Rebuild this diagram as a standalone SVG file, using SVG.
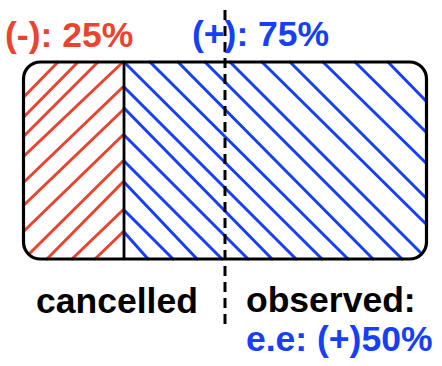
<svg xmlns="http://www.w3.org/2000/svg" width="442" height="366" viewBox="0 0 442 366">
<style>
.red{stroke:#EA4430;stroke-width:3;fill:none;stroke-linecap:round}
.blue{stroke:#1640F5;stroke-width:3;fill:none;stroke-linecap:round}
.box{fill:none;stroke:#000;stroke-width:3.2}
.div{stroke:#000;stroke-width:2.8}
.dash{stroke:#000;stroke-width:3;stroke-dasharray:10 6}
.t{font-family:"Liberation Sans",Arial,sans-serif;font-weight:bold;font-size:35.5px}
</style>
<rect width="442" height="366" fill="#fff"/>
<g id="negative">
<path class="red" d="M24 96.7L58 62M24 116.7L78 62M24 136L98 62M24 156L123 62M24 182L123 87M24 205L123 110M24 231L123 135M29 254L123 161M47 259L123 182M72 259L123 210M95 259L123 232"/>
</g>
<g id="positive">
<path class="blue" d="M124 232L148 259M124 210L173 259M124 182L197 259M124 161L222 259M124 135L248 259M124 108L272 259M124 87L296 259M124 62L322 259M150 62L348 259M178 62L373 259M205 62L402 259M230 62L420 252M262 62L426 224M290 62L426 198M323 62L426 163M355 62L426 132M388 62L426 101"/>
</g>
<g id="box">
<line class="div" x1="124" y1="62" x2="124" y2="259"/>
<rect class="box" x="23.5" y="62" width="403" height="197" rx="17"/>
</g>
<g id="connectors">
<line class="dash" x1="225" y1="10" x2="225" y2="328"/>
</g>
<g id="labels">
<text class="t" x="5" y="47" fill="#EA4430">(-): 25%</text>
<text class="t" x="192" y="46" fill="#1640F5">(+): 75%</text>
<text class="t" x="36" y="313" fill="#000">cancelled</text>
<text class="t" x="246" y="312" fill="#000">observed:</text>
<text class="t" x="246" y="351" fill="#1640F5">e.e: (+)50%</text>
</g>
</svg>
